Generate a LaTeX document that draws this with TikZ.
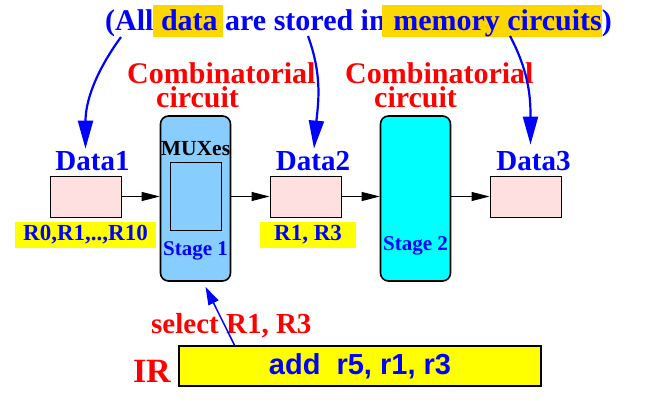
\documentclass[tikz,border=0pt]{standalone}
\usepackage{fontspec}
\setmainfont{Liberation Serif}
\setsansfont{Liberation Sans}
\usetikzlibrary{positioning, calc, arrows.meta}
\definecolor{noteBlue}{RGB}{0, 0, 255}
\definecolor{noteRed}{RGB}{255, 0, 0}
\definecolor{regPink}{RGB}{255, 224, 224}
\definecolor{stageSky}{RGB}{135, 206, 255}
\definecolor{stageCyan}{RGB}{0, 255, 255}
\definecolor{tagYellow}{RGB}{255, 255, 0}
\definecolor{hiGold}{RGB}{255, 215, 0}

% gold marker behind a word, padding eaten by the spaces round it
\newcommand{\hilite}[3]{\hspace{-#2}{\setlength{\fboxsep}{0pt}\colorbox{hiGold}{\rule[-6pt]{0pt}{32pt}\hspace{#2}#1\hspace{#3}}}\hspace{-#3}}

\tikzset{
  serifbold/.style={font=\fontsize{#1}{#1}\selectfont\bfseries, inner sep=0pt},
  regbox/.style={draw, line width=1pt, fill=regPink, minimum width=71pt, minimum height=41pt, inner sep=0pt},
  regtag/.style={fill=tagYellow, text=noteBlue, serifbold=23, minimum height=26pt},
  stagebox/.style={draw, line width=1.6pt, rounded corners=8pt, minimum width=70pt, minimum height=165pt, inner sep=0pt},
  combtitle/.style={text=noteRed, font=\fontsize{30}{24}\selectfont\bfseries, inner sep=0pt, align=left, anchor=south west},
  flowarrow/.style={line width=1pt, -{Triangle[length=18pt, width=9pt]}},
  notearrow/.style={noteBlue, line width=2.2pt, -{Triangle[length=28pt, width=15pt]}},
  selarrow/.style={noteBlue, line width=1.5pt, -{Triangle[length=18pt, width=11pt]}}
}

\begin{document}
\begin{tikzpicture}[x=1pt, y=-1pt]
    \useasboundingbox (0,0) rectangle (647,401);

    %% -- note on top ---------------------------------------------------
    \node[serifbold=30, text=noteBlue, anchor=base] (note) at (358.5,31)
      {(All \hilite{data}{8pt}{5pt} are stored in \hilite{memory circuits}{11pt}{0pt})};
    \coordinate (allfoot) at (121,37);
    \coordinate (storedfoot) at (308,36);
    \coordinate (circfoot) at (510,36);

    %% -- stages --------------------------------------------------------
    \node[stagebox, fill=stageSky] (stage1) at (195.5,198.5) {};
    \node[stagebox, fill=stageCyan] (stage2) at (415.5,198.5) {};
    \node[draw, line width=1pt, minimum width=51pt, minimum height=68pt, inner sep=0pt]
      (muxbox) at ([yshift=2.5pt]stage1.center) {};
    \node[serifbold=21.5, above=6pt of muxbox.north] (muxlbl) {MUXes};
    \node[serifbold=21, text=noteBlue, below=11pt of muxbox] (stage1lbl) {Stage 1};
    \node[serifbold=21, text=noteBlue] (stage2lbl) at ([yshift=-47.5pt]stage2.center) {Stage 2};
    % titles over the stages
    \node[combtitle] (comb1lbl) at ([xshift=-68.5pt, yshift=7pt]stage1.north)
      {Combinatorial\\\hspace*{29pt}circuit};
    \node[combtitle] (comb2lbl) at ([xshift=-70.5pt, yshift=7pt]stage2.north)
      {Combinatorial\\\hspace*{29pt}circuit};

    %% -- data registers ------------------------------------------------
    \node[regbox] (data1box) at (85.5,196.5) {};
    \node[regbox] (data2box) at (305.5,196.5) {};
    \node[regbox] (data3box) at (525.5,196.5) {};
    \node[serifbold=29, text=noteBlue, above=5pt of data1box.north, xshift=7pt] (data1lbl) {Data1};
    \node[serifbold=29, text=noteBlue, above=5pt of data2box.north, xshift=7.5pt] (data2lbl) {Data2};
    \node[serifbold=29, text=noteBlue, above=5pt of data3box.north, xshift=8pt] (data3lbl) {Data3};
    \node[regtag, below=4pt of data1box, minimum width=141pt] (data1tag) {R0,R1,..,R10};
    \node[regtag, below=4pt of data2box, xshift=2.5pt, minimum width=96pt] (data2tag) {R1, R3};

    % flow through the pipe
    \draw[flowarrow] (data1box.east) -- (data1box.east -| stage1.west);
    \draw[flowarrow] (data1box.east -| stage1.east) -- (data2box.west);
    \draw[flowarrow] (data2box.east) -- (data2box.east -| stage2.west);
    \draw[flowarrow] (data2box.east -| stage2.east) -- (data3box.west);

    % note arrows
    \draw[notearrow] (allfoot) to[out=-126, in=90] ([xshift=-7pt, yshift=2pt]data1lbl.north);
    \draw[notearrow] (storedfoot) to[out=-70, in=85] ([xshift=1pt, yshift=2pt]data2lbl.north);
    \draw[notearrow] (circfoot) to[out=-62, in=90] ([xshift=-3pt, yshift=6pt]data3lbl.north);

    %% -- instruction register ------------------------------------------
    \node[draw, line width=2pt, fill=tagYellow, text=noteBlue, minimum width=362pt, minimum height=40pt,
          inner sep=0pt, font=\sffamily\bfseries\fontsize{29}{34}\selectfont] (irbox) at (360,366)
      {add~~r5, r1, r3\hspace{22pt}};
    \node[serifbold=34, text=noteRed, left=7pt of irbox, yshift=-5pt] (irlbl) {IR};
    \node[serifbold=29, text=noteRed, anchor=base west] (selectlbl) at (151,333) {select R1, R3};
    \draw[selarrow] ($(irbox.north west)!0.155!(irbox.north east)$) -- ([xshift=10pt, yshift=-5pt]stage1.south);

  \end{tikzpicture}
\end{document}
